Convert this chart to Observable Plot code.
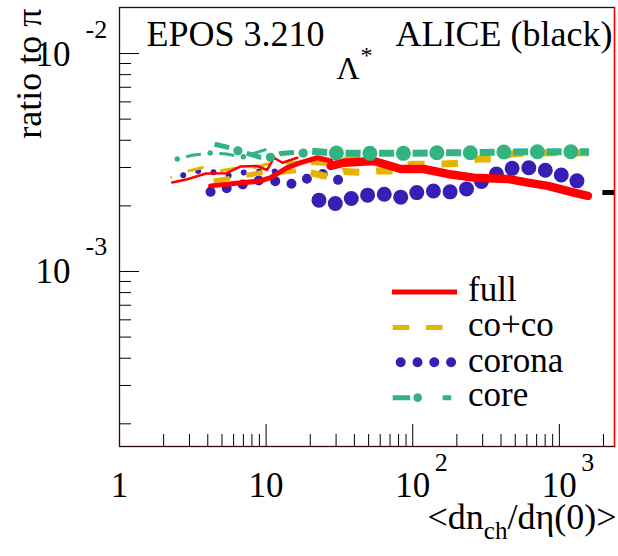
<!DOCTYPE html>
<html><head><meta charset="utf-8">
<script src="https://cdn.jsdelivr.net/npm/d3@7"></script>
<script src="https://cdn.jsdelivr.net/npm/@observablehq/plot@0.6"></script>
<style>
body{margin:0;background:#fff;}
#chart svg{display:block;font-family:"Liberation Serif","Times New Roman",serif;}
</style></head><body><div id="chart"></div>
<script>
// ---------- data (x = <dn_ch/deta(0)>, y = ratio to pi) ----------
const full_pp   = [[2.289,2.562e-3],[2.898,2.650e-3],[3.895,2.817e-3],[5.376,2.823e-3],[6.699,3.032e-3],[8.709,3.048e-3],[10.16,2.922e-3],[11.31,3.325e-3],[12.90,3.155e-3],[16.33,3.325e-3]];
const full_pPb  = [[4.18,2.470e-3],[7.056,2.558e-3],[9.17,2.603e-3],[10.73,2.695e-3],[13.95,2.994e-3],[17.2,3.155e-3],[22.37,3.325e-3],[27.56,3.212e-3]];
const full_PbPb = [[27.56,3.048e-3],[33.97,3.155e-3],[54.18,3.212e-3],[82.82,2.953e-3],[118.9,2.953e-3],[173.3,2.802e-3],[260.9,2.695e-3],[445.2,2.659e-3],[609.5,2.558e-3],[834.5,2.470e-3],[1256,2.302e-3],[1565,2.223e-3]];

const coco_pp   = [[2.229,2.701e-3],[2.898,2.883e-3],[3.762,3.007e-3],[4.891,2.901e-3],[6.193,2.975e-3],[8.05,2.975e-3],[10.19,3.112e-3],[12.56,3.112e-3],[16.33,3.178e-3]];
const coco_pPb  = [[4.381,2.603e-3],[5.723,2.678e-3],[7.597,2.773e-3],[9.614,2.853e-3],[12.56,2.853e-3],[16.33,2.901e-3],[20.68,3.162e-3],[26.17,3.128e-3],[34.89,3.281e-3],[44.17,3.333e-3]];
const coco_PbPb = [[20.13,2.832e-3],[26.17,2.729e-3],[33.81,2.877e-3],[44.17,2.853e-3],[57.69,2.892e-3],[74.21,2.892e-3],[96.9,3.102e-3],[162.8,3.112e-3],[212.6,3.145e-3],[277.7,3.281e-3],[357.2,3.281e-3],[466.8,3.458e-3],[609.5,3.494e-3],[1024,3.505e-3],[1590,3.505e-3]];

const corona_pp   = [[2.72,2.764e-3],[3.505,2.901e-3],[4.473,2.846e-3],[5.705,2.749e-3],[7.19,2.856e-3],[8.96,2.877e-3],[11.19,2.883e-3],[14.54,2.802e-3]];
const corona_pPb  = [[4.18,2.319e-3],[5.435,2.411e-3],[7.056,2.515e-3],[9.07,2.622e-3],[11.80,2.595e-3],[15.34,2.515e-3],[19.42,2.678e-3],[24.50,2.802e-3],[31.40,2.622e-3],[39.74,2.622e-3]];
const corona_PbPb = [[22.93,2.125e-3],[29.49,2.050e-3],[38.15,2.161e-3],[49.08,2.240e-3],[63.71,2.263e-3],[82.82,2.193e-3],[106.9,2.302e-3],[138.0,2.339e-3],[179.7,2.319e-3],[232.9,2.393e-3],[294.4,2.589e-3],[372.6,2.802e-3],[477.9,2.975e-3],[622.2,2.994e-3],[805.2,2.913e-3],[1035,2.767e-3],[1321,2.603e-3]];

const core_pp   = [[2.476,3.281e-3],[3.200,3.421e-3],[4.134,3.494e-3],[5.376,3.458e-3],[6.914,3.351e-3],[10.19,3.645e-3]];
const core_pPb  = [[4.403,3.842e-3],[5.878,3.672e-3],[6.42,3.578e-3],[9.17,3.340e-3],[10.73,3.340e-3],[12.56,3.477e-3],[16.33,3.521e-3],[18.61,3.477e-3]];
const core_PbPb = [[19.50,3.567e-3],[30.15,3.494e-3],[50.31,3.483e-3],[85.07,3.483e-3],[145.2,3.505e-3],[244.9,3.505e-3],[413.4,3.531e-3],[702.1,3.542e-3],[1185,3.542e-3],[1590,3.542e-3]];

const alice = [{x1: 1980, x2: 2400, y: 2.303e-3}];

const xDomain = [1, 2377];
const yDomain = [1.574e-4, 0.01626];
const xMajor = [10, 100, 1000];
const xMinor = [2,3,4,5,6,7,8,9,20,30,40,50,60,70,80,90,200,300,400,500,600,700,800,900,2000];
const yMajor = [1e-3, 1e-2];
const yMinor = [2e-4,3e-4,4e-4,5e-4,6e-4,7e-4,8e-4,9e-4,2e-3,3e-3,4e-3,5e-3,6e-3,7e-3,8e-3,9e-3];
const xLabelVals = [1, 10, 100, 1000];
const xLabelBase = ["1", "10", "10", "10"];
const xLabelExp  = ["", "", "2", "3"];
const yLabelBase = ["10", "10"];
const yLabelExp  = ["-3", "-2"];
const legendNames = ["full", "co+co", "corona", "core"];

// ---------- styles ----------
const RED = "#ff0000", YEL = "#e6b400", BLU = "#371eb4", GRN = "#32b482";
const W = 618, H = 556, mL = 119, mR = 4, mT = 7, mB = 110;
const FW = W - mL - mR, FH = H - mT - mB;
const FS = 35;
const SERIF = "'Liberation Serif','Times New Roman',serif";

const xy = {x: d => d[0], y: d => d[1], clip: true};
const corona = (data, d, sp) => Plot.line(data, {...xy, stroke: BLU, strokeWidth: d, strokeLinecap: "round", strokeDasharray: `0 ${sp}`});
const coco = (data, w, off) => Plot.line(data, {...xy, stroke: YEL, strokeWidth: w, strokeLinecap: "butt", strokeDasharray: "16.5 16.8", strokeDashoffset: off});
const full = (data, w) => Plot.line(data, {...xy, stroke: RED, strokeWidth: w, strokeLinejoin: "round"});
const core = (data, w, d, off) => [
  Plot.line(data, {...xy, stroke: GRN, strokeWidth: w, strokeLinecap: "butt", strokeDasharray: "0 9.25 15 9.25", strokeDashoffset: off}),
  Plot.line(data, {...xy, stroke: GRN, strokeWidth: d, strokeLinecap: "round", strokeDasharray: "0 33.5", strokeDashoffset: off})
];

const chart = Plot.plot({
  width: W, height: H,
  marginLeft: mL, marginRight: mR, marginTop: mT, marginBottom: mB,
  x: {type: "log", domain: xDomain, axis: null},
  y: {type: "log", domain: yDomain, axis: null},
  style: {fontFamily: SERIF, background: "#fff"},
  marks: [
    corona(corona_pp, 6, 15.5),
    corona(corona_pPb, 10, 16.5),
    corona(corona_PbPb, 15, 16.7),
    coco(coco_pp, 3, 15),
    coco(coco_pPb, 5, 0),
    coco(coco_PbPb, 7, 0),
    full(full_pp, 2.5),
    full(full_pPb, 5),
    full(full_PbPb, 8.5),
    ...core(core_pp, 3, 5.5, 0),
    ...core(core_pPb, 5, 9.3, 8.5),
    ...core(core_PbPb, 7, 15, 5.7),
    Plot.ruleY(alice, {x1: "x1", x2: "x2", y: "y", stroke: "#000", strokeWidth: 5, clip: true}),
    // ticks (inside frame)
    Plot.ruleX(xMajor, {insetTop: FH - 22, stroke: "#000"}),
    Plot.ruleX(xMinor, {insetTop: FH - 12, stroke: "#000"}),
    Plot.ruleY(yMajor, {insetRight: FW - 20, stroke: "#000"}),
    Plot.ruleY(yMinor, {insetRight: FW - 12, stroke: "#000"}),
    Plot.frame({stroke: "#2a0a0a", strokeWidth: 1.3}),
    Plot.ruleX([xDomain[1]], {stroke: RED, strokeWidth: 1.3}),
    // tick labels
    Plot.text(xLabelVals, {x: d => d, text: (d, i) => xLabelBase[i], frameAnchor: "bottom", lineAnchor: "bottom", dy: 50, fontSize: FS}),
    Plot.text(xLabelVals, {x: d => d, text: (d, i) => xLabelExp[i], frameAnchor: "bottom", lineAnchor: "bottom", textAnchor: "start", dx: 22, dy: 24, fontSize: 26}),
    Plot.text(yMajor, {y: d => d, text: (d, i) => yLabelBase[i], frameAnchor: "left", lineAnchor: "bottom", textAnchor: "end", dx: -49, dy: 12, fontSize: FS}),
    Plot.text(yMajor, {y: d => d, text: (d, i) => yLabelExp[i], frameAnchor: "left", lineAnchor: "bottom", textAnchor: "start", dx: -34, dy: -16, fontSize: 26}),
    // titles
    Plot.text(["<dn_ch/dη(0)>"], {frameAnchor: "bottom-right", lineAnchor: "bottom", textAnchor: "end", dx: 2, dy: 82, fontSize: 36}),
    Plot.text(["ratio to π"], {frameAnchor: "top-left", lineAnchor: "bottom", textAnchor: "end", rotate: -90, dx: -79, dy: 1, fontSize: 36}),
    Plot.text(["EPOS 3.210"], {frameAnchor: "top-left", lineAnchor: "bottom", textAnchor: "start", dx: 27, dy: 38, fontSize: 36}),
    Plot.text(["ALICE (black)"], {frameAnchor: "top-right", lineAnchor: "bottom", textAnchor: "end", dx: -2, dy: 38, fontSize: 36}),
    Plot.text(["Λ"], {frameAnchor: "top-left", lineAnchor: "bottom", textAnchor: "start", dx: 336 - mL, dy: 78 - mT, fontSize: 32}),
    Plot.text(["*"], {frameAnchor: "top-left", lineAnchor: "bottom", textAnchor: "start", dx: 360 - mL, dy: 62 - mT, fontSize: 24})
  ]
});
document.getElementById("chart").appendChild(chart);

// subscript in x title
d3.select(chart).selectAll("text").each(function() {
  if (this.textContent === "<dn_ch/dη(0)>") {
    const t = d3.select(this);
    t.text(null);
    t.append("tspan").text("<dn");
    t.append("tspan").attr("font-size", 25).attr("dy", 10).text("ch");
    t.append("tspan").attr("dy", -10).text("/dη(0)>");
  }
});

// legend
const lg = d3.select(chart).append("g").attr("text-anchor", "start").attr("font-family", SERIF);
const rows = [292, 327.5, 362.3, 397.7];
const base = [300.7, 336, 371.7, 405.5];
lg.append("line").attr("x1", 392).attr("x2", 457).attr("y1", rows[0]).attr("y2", rows[0]).attr("stroke", RED).attr("stroke-width", 5);
lg.append("line").attr("x1", 392.7).attr("x2", 458).attr("y1", rows[1]).attr("y2", rows[1]).attr("stroke", YEL).attr("stroke-width", 5).attr("stroke-dasharray", "16.6 16.6");
lg.append("line").attr("x1", 400.7).attr("x2", 451.2).attr("y1", rows[2]).attr("y2", rows[2]).attr("stroke", BLU).attr("stroke-width", 10).attr("stroke-linecap", "round").attr("stroke-dasharray", "0 16.8");
lg.append("line").attr("x1", 392.7).attr("x2", 451.2).attr("y1", rows[3]).attr("y2", rows[3]).attr("stroke", GRN).attr("stroke-width", 5).attr("stroke-dasharray", "17.3 16.3 0 16.3 16.7 100");
lg.append("line").attr("x1", 417.7).attr("x2", 451.2).attr("y1", rows[3]).attr("y2", rows[3]).attr("stroke", GRN).attr("stroke-width", 8.7).attr("stroke-linecap", "round").attr("stroke-dasharray", "0 33.5");
legendNames.forEach((n, i) => {
  lg.append("text").attr("x", 468).attr("y", base[i]).attr("font-size", FS).attr("fill", "#000").attr("text-anchor", "start").text(n);
});
</script></body></html>
